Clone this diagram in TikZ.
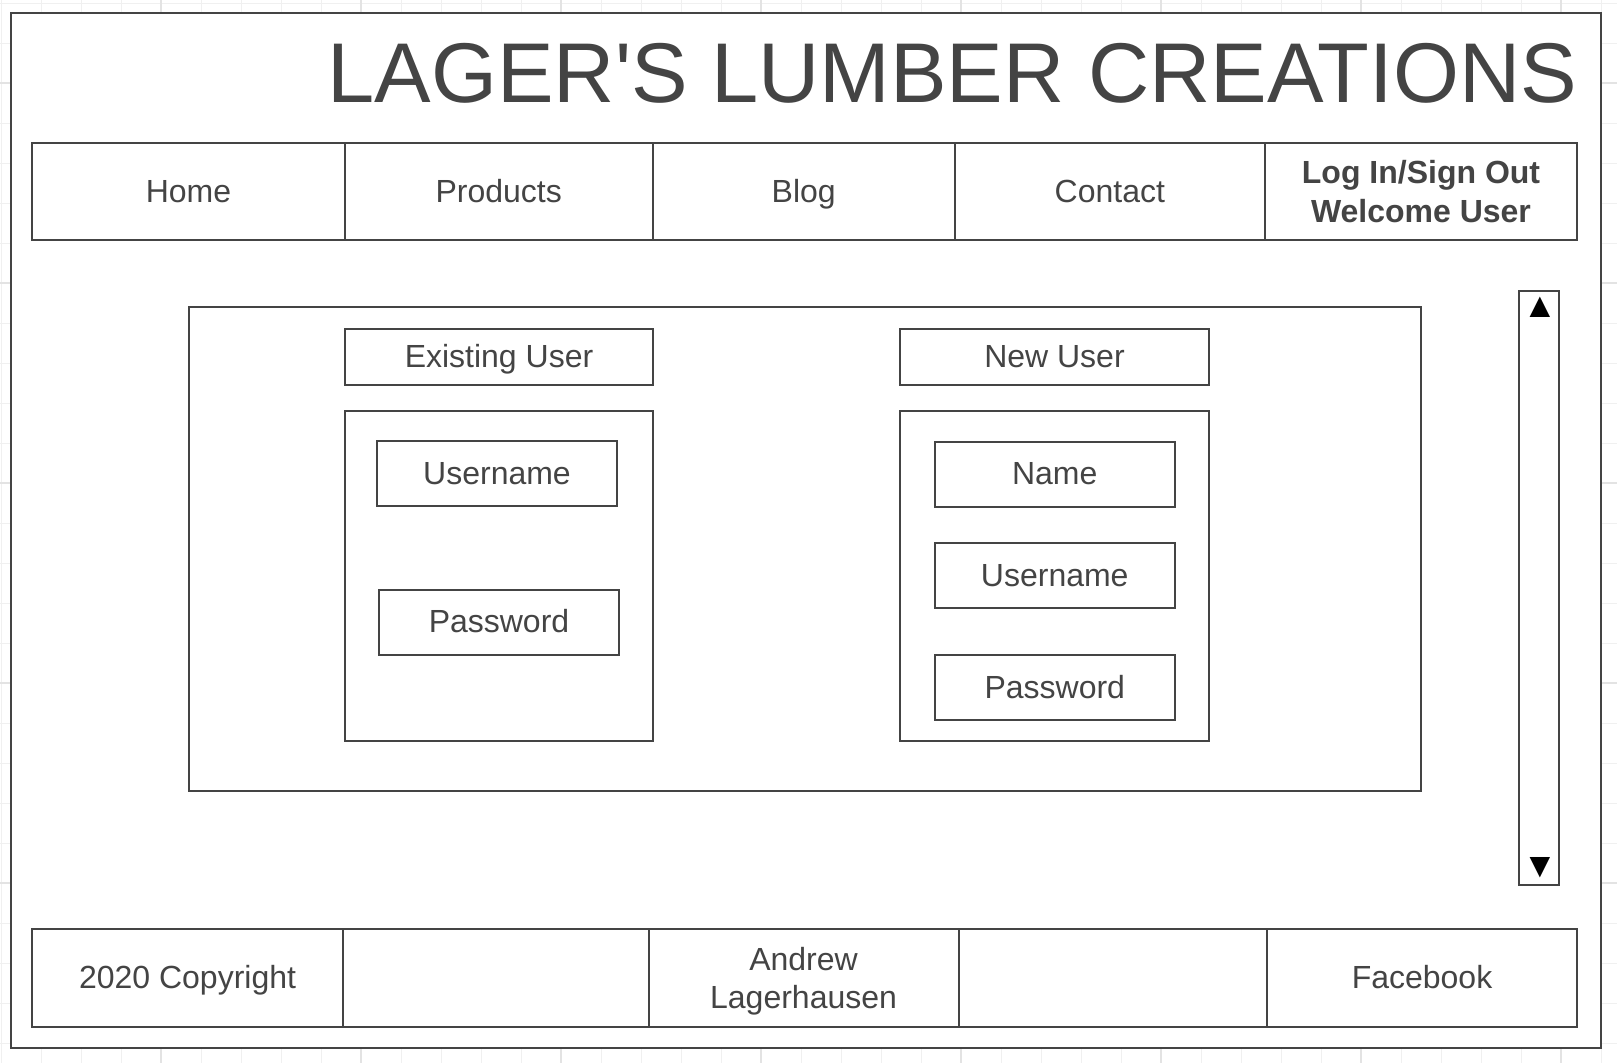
\documentclass[tikz,border=0pt]{standalone}
\usepackage{fontspec}
\setmainfont{Liberation Sans}
\usepackage{xcolor}
\usepackage{tikz}
\usetikzlibrary{positioning}
\definecolor{ink}{HTML}{444444}
\definecolor{gridminor}{HTML}{F0F0F0}
\definecolor{gridmajor}{HTML}{E3E3E3}

\begin{document}
\begin{tikzpicture}
        [x=1pt,y=-1pt,
        frame/.style={rectangle,draw=ink,line width=2pt,fill=white,inner sep=0pt},
        navcell/.style={frame,minimum height=97.6pt,text=ink,text height=21pt,text depth=0pt,font=\fontsize{32}{38.4}\selectfont},
        field/.style={frame,minimum width=240.5pt,minimum height=65pt,text=ink,text height=21pt,text depth=0pt,font=\fontsize{32}{38.4}\selectfont},
        heading/.style={field,minimum width=308.8pt,minimum height=55.8pt},
        panel/.style={frame},
        twoline/.style={align=center,text height={},text depth={}},
        scrolltip/.style={inner sep=0pt,text=black,font=\fontsize{35}{36}\selectfont}]

\useasboundingbox (0,0) rectangle (1617,1063);

\begin{scope}

% grid
\fill[white] (0,0) rectangle (1617,1063);
\foreach \gx in {1,41,...,1601} \draw[gridminor,line width=1pt] (\gx,0) -- (\gx,1063);
\foreach \gy in {3,43,...,1043} \draw[gridminor,line width=1pt] (0,\gy) -- (1617,\gy);
\foreach \gx in {161,361,...,1561} \draw[gridmajor,line width=1.2pt] (\gx,0) -- (\gx,1063);
\foreach \gy in {83,283,...,883} \draw[gridmajor,line width=1.2pt] (0,\gy) -- (1617,\gy);

% page
\node[panel,minimum width=1590pt,minimum height=1035pt] at (806,530.5) (page) {};
\node[anchor=base east,inner sep=0pt,text=ink,font=\fontsize{84.8}{100}\selectfont] at (1577,102) (title) {LAGER\textquotesingle S LUMBER CREATIONS};

% navigation
\node[navcell,minimum width=312.4pt] at (188.5,191.5) (home) {Home};
\node[navcell,minimum width=308pt] at (498.7,191.5) (products) {Products};
\node[navcell,minimum width=302pt] at (803.7,191.5) (blog) {Blog};
\node[navcell,minimum width=310.3pt] at (1109.85,191.5) (contact) {Contact};
\node[navcell,twoline,minimum width=312pt,font=\fontsize{32}{38.4}\selectfont\bfseries] at (1421,191.5) (login) {Log In/Sign Out\\Welcome User};

% content
\node[panel,minimum width=1232.3pt,minimum height=484pt] at (804.85,548.7) (content) {};

\node[heading] at (499,356.85) (existing) {Existing User};
\node[panel,minimum width=308.6pt,minimum height=330pt] at (499,576) (existingform) {};
\node[field] at (497,473.5) (exusername) {Username};
\node[field] at (499,622) (expassword) {Password};

\node[heading] at (1054.5,357) (newuser) {New User};
\node[panel,minimum width=309pt,minimum height=330pt] at (1054.5,576) (newform) {};
\node[field] at (1054.75,474) (newname) {Name};
\node[field] at (1054.75,575.5) (newusername) {Username};
\node[field] at (1054.75,687.5) (newpassword) {Password};

% scroll bar
\node[panel,minimum width=40pt,minimum height=594pt] at (1539,588) (scroll) {};
\node[scrolltip] at (1540,307.5) (scrollup) {▲};
\node[scrolltip] at (1540,867.5) (scrolldown) {▼};

% footer
\node[navcell,minimum width=310.5pt] at (187.55,977.85) (copyright) {2020 Copyright};
\node[navcell,minimum width=305.7pt] at (495.65,977.85) (footerb) {};
\node[navcell,twoline,minimum width=310.1pt] at (803.55,977.85) (author) {Andrew\\\smash{Lagerhausen}};
\node[navcell,minimum width=308.4pt] at (1112.8,977.85) (footerd) {};
\node[navcell,minimum width=310pt] at (1422,977.85) (facebook) {Facebook};

\end{scope}

\end{tikzpicture}
\end{document}
